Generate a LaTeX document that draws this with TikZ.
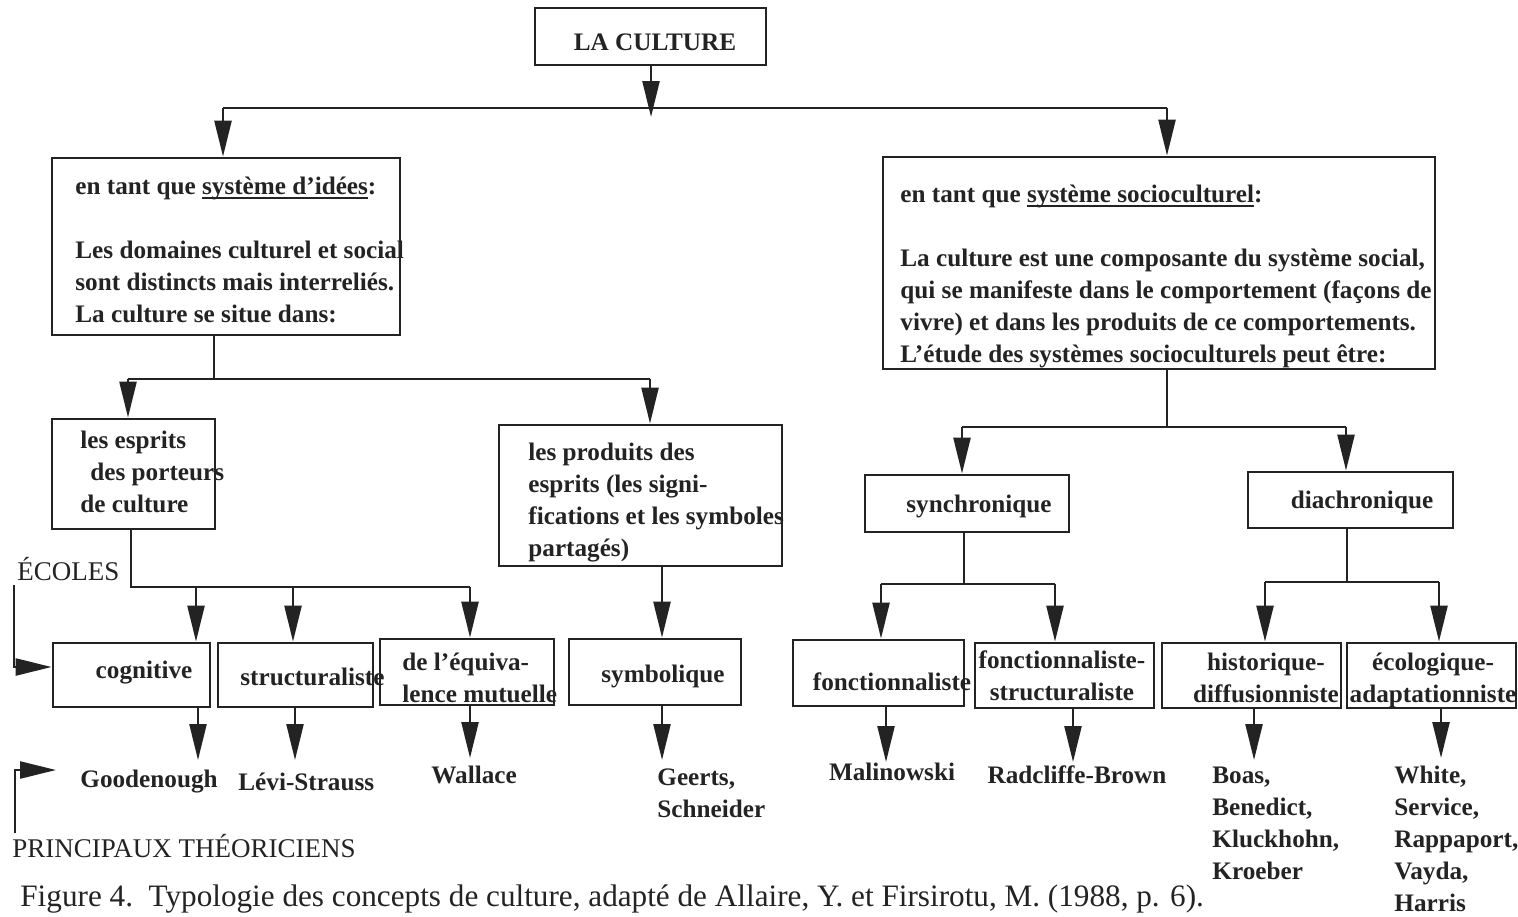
\documentclass[tikz,border=0pt]{standalone}
\usepackage{fontspec}
\setmainfont{Liberation Serif}
\usetikzlibrary{arrows.meta,fit}
\definecolor{ink}{RGB}{35,35,35}
% underline with a heavier rule
\newcommand{\undl}[1]{\setbox0=\hbox{#1}\rlap{\rule[-2.6pt]{\wd0}{0.9pt}}\box0}
\tikzset{
  box/.style={draw=ink, line width=1.4pt, inner sep=0pt},
  lbl/.style={font=\bfseries\fontsize{12.6}{16}\selectfont, text=ink, inner sep=0pt},
  plain/.style={font=\fontsize{13.5}{16}\selectfont, text=ink, inner sep=0pt},
  wire/.style={draw=ink, line width=1.2pt},
  arr/.style={wire, -{Triangle[length=18pt,width=8.5pt]}},
}
\begin{document}
\begin{tikzpicture}[x=0.5pt,y=-0.5pt]
\useasboundingbox (0,0) rectangle (1518,916);

% ---------- boxes ----------
\node[box, fit={(535,8) (766,65)}] (culture) {};
\node[box, fit={(52,158) (400,335)}] (ideas) {};
\node[box, fit={(883,157) (1435,369)}] (socio) {};
\node[box, fit={(52,419) (215,529)}] (esprits) {};
\node[box, fit={(499,425) (782,566)}] (produits) {};
\node[box, fit={(53,643) (210,707)}] (cogn) {};
\node[box, fit={(218,643) (373,707)}] (struct) {};
\node[box, fit={(380,639) (554,705)}] (equiv) {};
\node[box, fit={(569,639) (741,705)}] (symb) {};
\node[box, fit={(865,475) (1069,532)}] (synchro) {};
\node[box, fit={(1248,472) (1453,528)}] (diachro) {};
\node[box, fit={(793,640) (964,706)}] (fonct) {};
\node[box, fit={(975,643) (1154,708)}] (fstruct) {};
\node[box, fit={(1162,643) (1341,708)}] (histo) {};
\node[box, fit={(1347,643) (1516,708)}] (eco) {};

% ---------- box texts (multi-line texts are placed by their last baseline) ----------
\node[lbl, anchor=base] (tculture) at (655,50) {LA CULTURE};
\node[lbl, anchor=base west, align=left] (tideas) at (75,322)
  {en tant que \undl{système d'idées}:\\[16pt]
   Les domaines culturel et social\\
   sont distincts mais interreliés.\\
   La culture se situe dans:};
\node[lbl, anchor=base west, align=left] (tsocio) at (900,362)
  {en tant que \undl{système socioculturel}:\\[16pt]
   La culture est une composante du système social,\\
   qui se manifeste dans le comportement (façons de\\
   vivre) et dans les produits de ce comportements.\\
   L'étude des systèmes socioculturels peut être:};
\node[lbl, anchor=base west, align=left] (tesprits) at (80,512)
  {les esprits\\ \hspace{5pt}des porteurs\\ de culture};
\node[lbl, anchor=base west, align=left] (tproduits) at (528,556)
  {les produits des\\ esprits (les signi-\\ fications et les symboles\\ partagés)};
\node[lbl, anchor=base] (tcogn) at (144,678) {cognitive};
\node[lbl, anchor=base west] (tstruct) at (240,685) {structuraliste};
\node[lbl, anchor=base west, align=left] (tequiv) at (402,702)
  {de l'équiva-\\ lence mutuelle};
\node[lbl, anchor=base] (tsymb) at (663,682) {symbolique};
\node[lbl, anchor=base] (tsynchro) at (979,512) {synchronique};
\node[lbl, anchor=base] (tdiachro) at (1362,508) {diachronique};
\node[lbl, anchor=base] (tfonct) at (892,690) {fonctionnaliste};
\node[lbl, anchor=base, align=center] (tfstruct) at (1062,700)
  {fonctionnaliste-\\ structuraliste};
\node[lbl, anchor=base, align=center] (thisto) at (1266,702)
  {historique-\\ diffusionniste};
\node[lbl, anchor=base, align=center] (teco) at (1433,702)
  {écologique-\\ adaptationniste};

% ---------- theorists ----------
\node[lbl, anchor=base west] (goodenough) at (80,787) {Goodenough};
\node[lbl, anchor=base west] (levi) at (238,790) {Lévi-Strauss};
\node[lbl, anchor=base west] (wallace) at (431,783) {Wallace};
\node[lbl, anchor=base west, align=left] (geerts) at (657,817) {Geerts,\\ Schneider};
\node[lbl, anchor=base] (malinowski) at (892,780) {Malinowski};
\node[lbl, anchor=base] (radcliffe) at (1077,783) {Radcliffe-Brown};
\node[lbl, anchor=base west, align=left] (boas) at (1212,879)
  {Boas,\\ Benedict,\\ Kluckhohn,\\ Kroeber};
\node[lbl, anchor=base west, align=left] (white) at (1394,911)
  {White,\\ Service,\\ Rappaport,\\ Vayda,\\ Harris};

% ---------- side labels and caption ----------
\node[plain, anchor=base west] (ecoles) at (17,580) {ÉCOLES};
\node[plain, anchor=base west] (princ) at (12,857) {PRINCIPAUX THÉORICIENS};
\node[plain, font=\fontsize{15.6}{16}\selectfont, anchor=base west] (caption) at (20,906)
  {Figure 4.\ \ Typologie des concepts de culture, adapté de Allaire, Y. et Firsirotu, M. (1988, p. 6).};

% ---------- junction points ----------
\coordinate (c0) at (651,117);
\coordinate (ja) at (223,108);
\coordinate (jb) at (1167,108);
\coordinate (ka) at (214,379);
\coordinate (kl) at (128,379);
\coordinate (kr) at (650,379);
\coordinate (ma) at (131,587);
\coordinate (m1) at (196,587);
\coordinate (m2) at (293,587);
\coordinate (m3) at (470,587);
\coordinate (sa) at (1167,427);
\coordinate (sl) at (962,427);
\coordinate (sr) at (1346,427);
\coordinate (ya) at (964,584);
\coordinate (yl) at (881,584);
\coordinate (yr) at (1055,584);
\coordinate (da) at (1347,582);
\coordinate (dl) at (1265,582);
\coordinate (dr) at (1439,582);
% arrow ends above the theorists
\coordinate (e1) at (198,760);
\coordinate (e2) at (295,760);
\coordinate (e3) at (470,758);
\coordinate (e4) at (662,760);
\coordinate (e5) at (886,762);
\coordinate (e6) at (1073,762);
\coordinate (e7) at (1254,760);
\coordinate (e8) at (1441,758);
% side brackets
\coordinate (b1) at (14,585);
\coordinate (b2) at (14,667);
\coordinate (p1) at (15,833);
\coordinate (p2) at (15,770);
\coordinate (p3) at (56,770);

% ---------- connectors ----------
\draw[arr] (culture.south -| c0) -- (c0);
\draw[wire] (ja) -- (jb);
\draw[arr] (ja) -- (ja |- ideas.north);
\draw[arr] (jb) -- (jb |- socio.north);

\draw[wire] (ideas.south -| ka) -- (ka);
\draw[wire] (kl) -- (kr);
\draw[arr] (kl) -- (kl |- esprits.north);
\draw[arr] (kr) -- (kr |- produits.north);

\draw[wire] (esprits.south -| ma) -- (ma) -- (m3);
\draw[arr] (m1) -- (m1 |- cogn.north);
\draw[arr] (m2) -- (m2 |- struct.north);
\draw[arr] (m3) -- (m3 |- equiv.north);
\draw[arr] (produits.south -| e4) -- (e4 |- symb.north);

\draw[arr] (cogn.south -| e1) -- (e1);
\draw[arr] (struct.south -| e2) -- (e2);
\draw[arr] (equiv.south -| e3) -- (e3);
\draw[arr] (symb.south -| e4) -- (e4);

\draw[wire] (socio.south -| sa) -- (sa);
\draw[wire] (sl) -- (sr);
\draw[arr] (sl) -- (sl |- synchro.north);
\draw[arr] (sr) -- (sr |- diachro.north);

\draw[wire] (synchro.south -| ya) -- (ya);
\draw[wire] (yl) -- (yr);
\draw[arr] (yl) -- (yl |- fonct.north);
\draw[arr] (yr) -- (yr |- fstruct.north);

\draw[wire] (diachro.south -| da) -- (da);
\draw[wire] (dl) -- (dr);
\draw[arr] (dl) -- (dl |- histo.north);
\draw[arr] (dr) -- (dr |- eco.north);

\draw[arr] (fonct.south -| e5) -- (e5);
\draw[arr] (fstruct.south -| e6) -- (e6);
\draw[arr] (histo.south -| e7) -- (e7);
\draw[arr] (eco.south -| e8) -- (e8);

\draw[arr] (b1) -- (b2) -- (b2 -| cogn.west);
\draw[arr] (p1) -- (p2) -- (p3);
\end{tikzpicture}
\end{document}
